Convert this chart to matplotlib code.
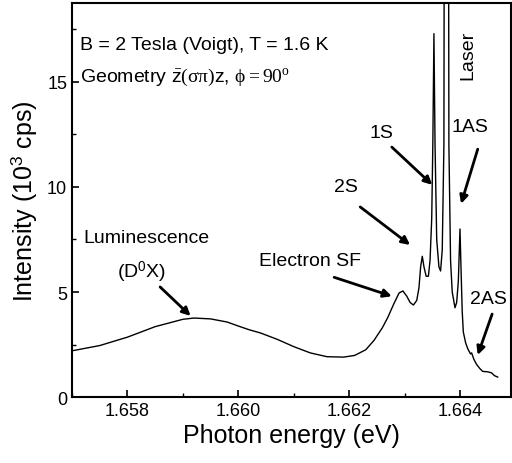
import numpy as np
import matplotlib
matplotlib.use('Agg')
import matplotlib.pyplot as plt

plt.rcParams['font.family'] = ['Liberation Sans', 'DejaVu Sans']
plt.rcParams['mathtext.fontset'] = 'custom'
plt.rcParams['mathtext.rm'] = 'Liberation Serif'
plt.rcParams['mathtext.it'] = 'Liberation Serif'
plt.rcParams['mathtext.sf'] = 'Liberation Sans'

# espectro: energia (eV) e intensidad (10^3 cps)
energia = [1.6570, 1.6575, 1.6580, 1.6585, 1.6590, 1.6592, 1.6595, 1.6598,
           1.6600, 1.6602, 1.6604, 1.6607, 1.6610, 1.6613, 1.6616, 1.6619,
           1.6621, 1.6623, 1.66245, 1.6626, 1.6627, 1.66280, 1.66290, 1.66297,
           1.66304, 1.66310, 1.66316, 1.66322, 1.66326, 1.66329, 1.66332, 1.66335,
           1.66339, 1.66343, 1.66346, 1.66349, 1.66351, 1.66353, 1.66355, 1.66358,
           1.66362, 1.66365, 1.66368, 1.66371, 1.66372, 1.66379, 1.66380, 1.66383,
           1.66386, 1.66391, 1.66394, 1.66397, 1.66400, 1.66402, 1.66404, 1.66406,
           1.66410, 1.66414, 1.66419, 1.66421, 1.66425, 1.66430, 1.66436, 1.66441,
           1.66450, 1.66457, 1.66462, 1.66468]
intensidad = [2.2, 2.45, 2.85, 3.35, 3.7, 3.76, 3.72, 3.57,
              3.38, 3.2, 3.05, 2.75, 2.4, 2.1, 1.92, 1.9,
              1.98, 2.25, 2.7, 3.3, 3.8, 4.4, 4.95, 5.05,
              4.8, 4.5, 4.38, 4.6, 5.2, 6.2, 6.7, 6.2,
              5.75, 5.75, 6.5, 8.5, 12.0, 17.3, 12.0, 7.5,
              6.2, 6.0, 7.0, 12.0, 30.0, 30.0, 12.0, 6.5,
              5.0, 4.25, 4.5, 5.5, 8.0, 6.0, 4.1, 3.1,
              2.6, 2.3, 2.05, 2.1, 1.8, 1.55, 1.35, 1.22,
              1.2, 1.15, 1.02, 0.95]

fig = plt.figure(figsize=(5.12, 4.64), dpi=100)
ax = fig.add_axes([0.1406, 0.1422, 0.8574, 0.8492])

ax.plot(energia, intensidad, 'k-', lw=1.0)

ax.set_xlim(1.657, 1.66492)
ax.set_ylim(0, 18.76)
ax.set_xticks([1.658, 1.660, 1.662, 1.664])
ax.set_xticklabels(['1.658', '1.660', '1.662', '1.664'])
ax.set_xticks([1.657, 1.659, 1.661, 1.663], minor=True)
ax.set_yticks([0, 5, 10, 15])
ax.set_yticks([2.5, 7.5, 12.5, 17.5], minor=True)
ax.tick_params(which='major', direction='in', length=5, width=1.2, labelsize=13)
ax.tick_params(which='minor', direction='in', length=3, width=1.0)
for s in ax.spines.values():
    s.set_linewidth(1.5)

ax.set_xlabel('Photon energy (eV)', fontsize=18, labelpad=3)
ax.set_ylabel(r'Intensity (10$^\mathregular{3}$ cps)', fontsize=18, labelpad=6)

fs = 14
# textos
ax.text(1.65715, 16.8, 'B = 2 Tesla (Voigt), T = 1.6 K', fontsize=fs, va='center')
ax.text(1.65715, 15.25, r'Geometry $\bar{\mathsf{z}}(\sigma\pi)\mathsf{z}$, $\phi = 90^\mathrm{o}$',
        fontsize=fs, va='center')
ax.text(1.66414, 16.3, 'Laser', fontsize=fs, rotation=90, ha='center', va='center')
ax.text(1.65834, 7.6, 'Luminescence', fontsize=fs, ha='center', va='center')
ax.text(1.65825, 6.0, r'(D$^\mathregular{0}$X)', fontsize=fs, ha='center', va='center')

flecha = dict(arrowstyle='-|>', lw=2.0, color='k', mutation_scale=12, shrinkA=0, shrinkB=0)
notas = [('1S', (1.66258, 12.6), (1.66277, 11.9), (1.66350, 10.1)),
         ('1AS', (1.66418, 12.86), (1.66432, 11.8), (1.66402, 9.2)),
         ('2S', (1.66195, 10.0), (1.66220, 9.05), (1.66310, 7.24)),
         ('Electron SF', (1.66130, 6.48), (1.66173, 5.7), (1.66277, 4.8)),
         ('2AS', (1.66452, 4.67), (1.66458, 3.95), (1.66432, 2.0))]
for txt, pos, cola, punta in notas:
    ax.text(pos[0], pos[1], txt, fontsize=fs, ha='center', va='center')
    ax.annotate('', xy=punta, xytext=cola, arrowprops=flecha)
ax.annotate('', xy=(1.65914, 3.86), xytext=(1.65859, 5.24), arrowprops=flecha)

fig.savefig('out.png', dpi=100)
